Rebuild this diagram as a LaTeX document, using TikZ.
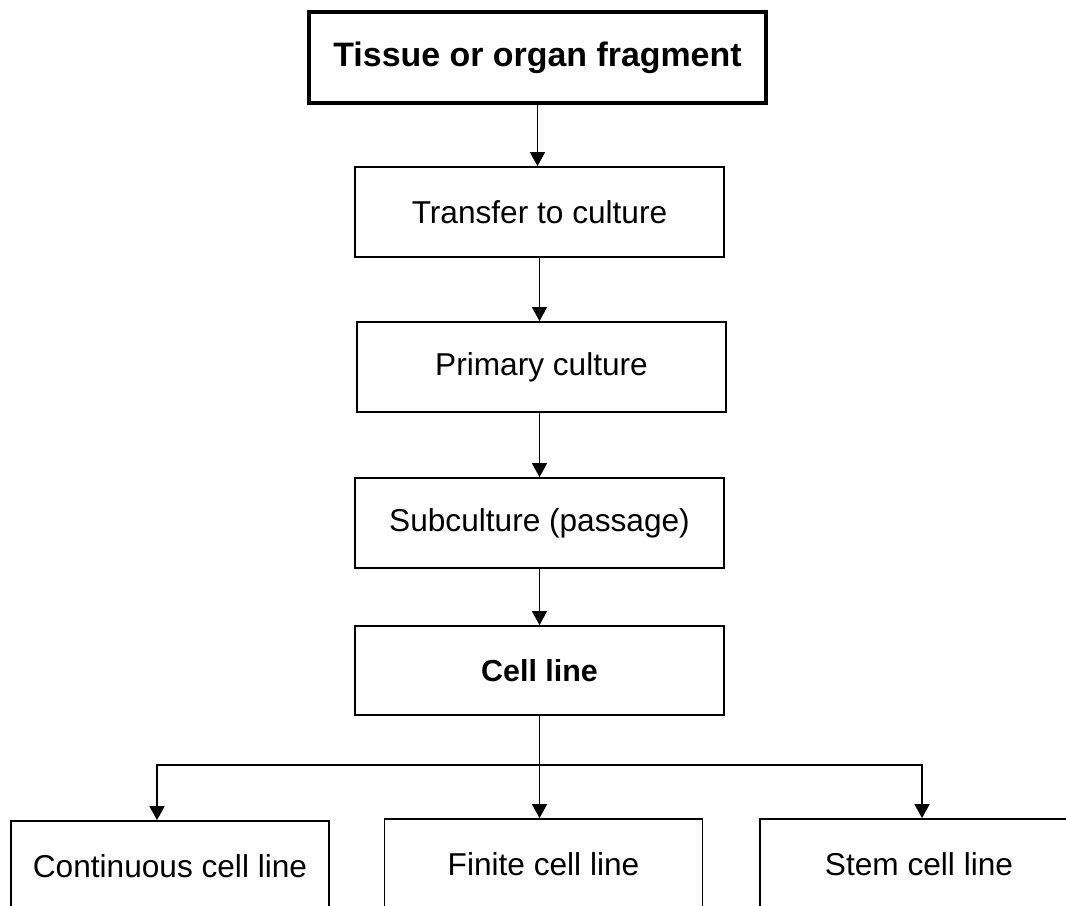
\documentclass[tikz,border=0pt]{standalone}
\usepackage{fontspec}
\setmainfont{Liberation Sans}
\usetikzlibrary{arrows.meta,calc}

\tikzset{
  stage/.style={rectangle, draw, line width=1pt, minimum width=7.38cm, minimum height=1.8cm,
    font=\fontsize{18}{21}\selectfont},
  leaf/.style={stage, minimum width=6.36cm},
  flow/.style={line width=1.1pt, -{Triangle[length=8pt,width=8.5pt]}}
}

\begin{document}
\begin{tikzpicture}[x=0.02cm, y=-0.02cm]
			\clip (0,0) rectangle (1066,906);
			% tissue
			\node[rectangle, draw, line width=2pt, minimum width=9.14cm, minimum height=1.82cm,
			  font=\fontsize{19.3}{22}\selectfont\bfseries] (tissue) at (537.5,57.5) {Tissue or organ fragment};
			
			% steps
			\node[stage] (transfer) at (539.5,212) {Transfer to culture};
			\node[stage] (primary) at (541.5,367) {Primary culture};
			\node[stage] (subculture) at (539.5,523) {Subculture (passage)};
			\node[stage, minimum height=1.78cm, font=\fontsize{17.3}{20}\selectfont\bfseries] (cellline) at (539.5,670.5) {Cell line};
			
			% cell line kinds
			\node[leaf] (continuous) at (170,866) {Continuous cell line};
			\node[leaf] (finite) at (543.5,864) {Finite cell line};
			\node[leaf] (stem) at (919,864) {Stem cell line};
			
			% arrows
			\draw[flow] (tissue.south) -- (tissue.south |- transfer.north);
			\draw[flow] (transfer.south) -- (transfer.south |- primary.north);
			\draw[flow] (transfer.south |- primary.south) -- (transfer.south |- subculture.north);
			\draw[flow] (subculture.south) -- (cellline.north);
			
			\coordinate (split) at (539.5,765);
			\draw[flow] (cellline.south) -- (cellline.south |- finite.north);
			\draw[flow] (split) -| ([xshift=-0.26cm]continuous.north);
			\draw[flow] (split) -| ([xshift=0.06cm]stem.north);
		\end{tikzpicture}
\end{document}
